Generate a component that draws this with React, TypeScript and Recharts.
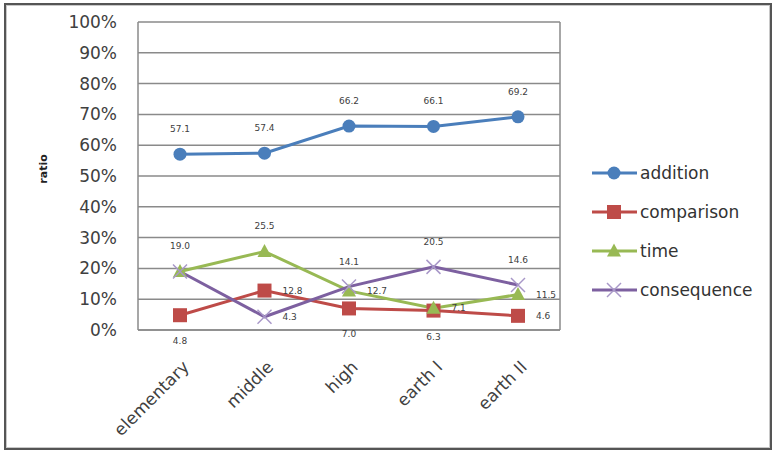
import React from 'react';
import { LineChart, Line, XAxis, YAxis, CartesianGrid, LabelList } from 'recharts';

const levels = ['elementary', 'middle', 'high', 'earth I', 'earth II'];
const addition = [57.1, 57.4, 66.2, 66.1, 69.2];
const comparison = [4.8, 12.8, 7.0, 6.3, 4.6];
const time = [19.0, 25.5, 12.7, 7.1, 11.5];
const consequence = [19.0, 4.3, 14.1, 20.5, 14.6];
const yTicks = [0, 10, 20, 30, 40, 50, 60, 70, 80, 90, 100];

// where each value label sits relative to its point ('none' = shared with another series)
const labelSides: Record<string, string[]> = {
  addition: ['top', 'top', 'top', 'top', 'top'],
  comparison: ['bottom', 'right', 'bottom', 'bottom', 'right'],
  time: ['none', 'top', 'right', 'right', 'right'],
  consequence: ['top', 'right', 'top', 'top', 'top'],
};

const data = levels.map((level, i) => ({
  level,
  addition: addition[i],
  comparison: comparison[i],
  time: time[i],
  consequence: consequence[i],
}));

const COLORS = {
  addition: '#4a7ebb',
  comparison: '#be4b48',
  time: '#98b954',
  consequence: '#7d60a0',
};

const FONT = '"DejaVu Sans", sans-serif';

const Marker = ({ kind, cx, cy, color }: { kind: string; cx: number; cy: number; color: string }) => {
  if (kind === 'circle') return <circle cx={cx} cy={cy} r={6.5} fill={color} />;
  if (kind === 'square') return <rect x={cx - 7} y={cy - 7} width={14} height={14} fill={color} />;
  if (kind === 'triangle')
    return <path d={`M${cx},${cy - 7.5}L${cx + 7},${cy + 5.5}L${cx - 7},${cy + 5.5}Z`} fill={color} />;
  return (
    <g stroke="#a897c8" strokeWidth={1.5}>
      <line x1={cx - 7} y1={cy - 7} x2={cx + 7} y2={cy + 7} />
      <line x1={cx - 7} y1={cy + 7} x2={cx + 7} y2={cy - 7} />
    </g>
  );
};

const makeDot = (kind: string, color: string) => (props: any) => (
  <Marker key={`${kind}-${props.index}`} kind={kind} cx={props.cx} cy={props.cy} color={color} />
);

const makeLabel = (sides: string[]) => (props: any) => {
  const { x, y, value, index } = props;
  const side = sides[index];
  if (side === 'none') return null;
  let tx = x;
  let ty = y;
  let anchor: 'middle' | 'start' = 'middle';
  if (side === 'top') ty = y - 25;
  else if (side === 'bottom') ty = y + 26;
  else {
    tx = x + 18;
    anchor = 'start';
  }
  return (
    <text x={tx} y={ty} textAnchor={anchor} dominantBaseline="central" fontSize={9} fill="#404040" fontFamily={FONT}>
      {Number(value).toFixed(1)}
    </text>
  );
};

const CategoryTick = ({ x, y, payload }: any) => {
  const ax = x + 10;
  const ay = y + 38;
  return (
    <text
      x={ax}
      y={ay}
      transform={`rotate(-45, ${ax}, ${ay})`}
      textAnchor="end"
      fontSize={17}
      fill="#404040"
      fontFamily={FONT}
    >
      {payload.value}
    </text>
  );
};

const RatioLabel = ({ viewBox }: any) => {
  const cx = viewBox.x + 43;
  const cy = 169;
  return (
    <text
      x={cx}
      y={cy}
      transform={`rotate(-90, ${cx}, ${cy})`}
      textAnchor="middle"
      dominantBaseline="central"
      fontSize={11}
      fontWeight="bold"
      fill="#222"
      fontFamily={FONT}
    >
      ratio
    </text>
  );
};

const legendItems = [
  { key: 'addition', kind: 'circle' },
  { key: 'comparison', kind: 'square' },
  { key: 'time', kind: 'triangle' },
  { key: 'consequence', kind: 'cross' },
];

const SideLegend = () => (
  <div style={{ position: 'absolute', left: 590, top: 153 }}>
    {legendItems.map((item) => {
      const color = (COLORS as any)[item.key];
      return (
        <div key={item.key} style={{ display: 'flex', alignItems: 'center', height: 39 }}>
          <svg width={50} height={24}>
            <line x1={2} y1={12} x2={47} y2={12} stroke={color} strokeWidth={3} />
            <Marker kind={item.kind} cx={24} cy={12} color={color} />
          </svg>
          <span style={{ fontFamily: FONT, fontSize: 17, color: '#333', marginLeft: 0 }}>{item.key}</span>
        </div>
      );
    })}
  </div>
);

export default function App() {
  return (
    <div style={{ position: 'absolute', left: 0, top: 0, width: 778, height: 461, background: '#fff' }}>
      <div
        style={{
          position: 'absolute',
          left: 4,
          top: 3,
          width: 768,
          height: 447,
          border: '2px solid #555',
          boxShadow: 'inset 0 0 0 1px #c8c8c8',
          boxSizing: 'border-box',
        }}
      />
      <div style={{ position: 'absolute', left: 0, top: 0 }}>
        <LineChart width={778} height={461} data={data} margin={{ top: 22, right: 218, bottom: 101, left: 0 }}>
          <CartesianGrid
            stroke="#8a8a8a"
            strokeWidth={1.5}
            verticalCoordinatesGenerator={({ offset }: any) => [offset.left, offset.left + offset.width]}
          />
          <XAxis
            dataKey="level"
            height={30}
            padding={{ left: 42, right: 42 }}
            axisLine={{ stroke: '#8a8a8a', strokeWidth: 1.5 }}
            tickLine={false}
            tickSize={0}
            tickMargin={0}
            interval={0}
            tick={<CategoryTick />}
          />
          <YAxis
            width={138}
            domain={[0, 100]}
            ticks={yTicks}
            interval={0}
            tickFormatter={(v: number) => `${v}%`}
            axisLine={false}
            tickLine={false}
            tickSize={0}
            tickMargin={21}
            tick={{ fill: '#404040', fontSize: 17, fontFamily: FONT }}
            label={<RatioLabel />}
          />
          <Line
            dataKey="addition"
            stroke={COLORS.addition}
            strokeWidth={3}
            dot={makeDot('circle', COLORS.addition)}
            isAnimationActive={false}
          >
            <LabelList dataKey="addition" content={makeLabel(labelSides.addition)} />
          </Line>
          <Line
            dataKey="comparison"
            stroke={COLORS.comparison}
            strokeWidth={3}
            dot={makeDot('square', COLORS.comparison)}
            isAnimationActive={false}
          >
            <LabelList dataKey="comparison" content={makeLabel(labelSides.comparison)} />
          </Line>
          <Line
            dataKey="time"
            stroke={COLORS.time}
            strokeWidth={3}
            dot={makeDot('triangle', COLORS.time)}
            isAnimationActive={false}
          >
            <LabelList dataKey="time" content={makeLabel(labelSides.time)} />
          </Line>
          <Line
            dataKey="consequence"
            stroke={COLORS.consequence}
            strokeWidth={3}
            dot={makeDot('cross', COLORS.consequence)}
            isAnimationActive={false}
          >
            <LabelList dataKey="consequence" content={makeLabel(labelSides.consequence)} />
          </Line>
        </LineChart>
      </div>
      <SideLegend />
    </div>
  );
}
